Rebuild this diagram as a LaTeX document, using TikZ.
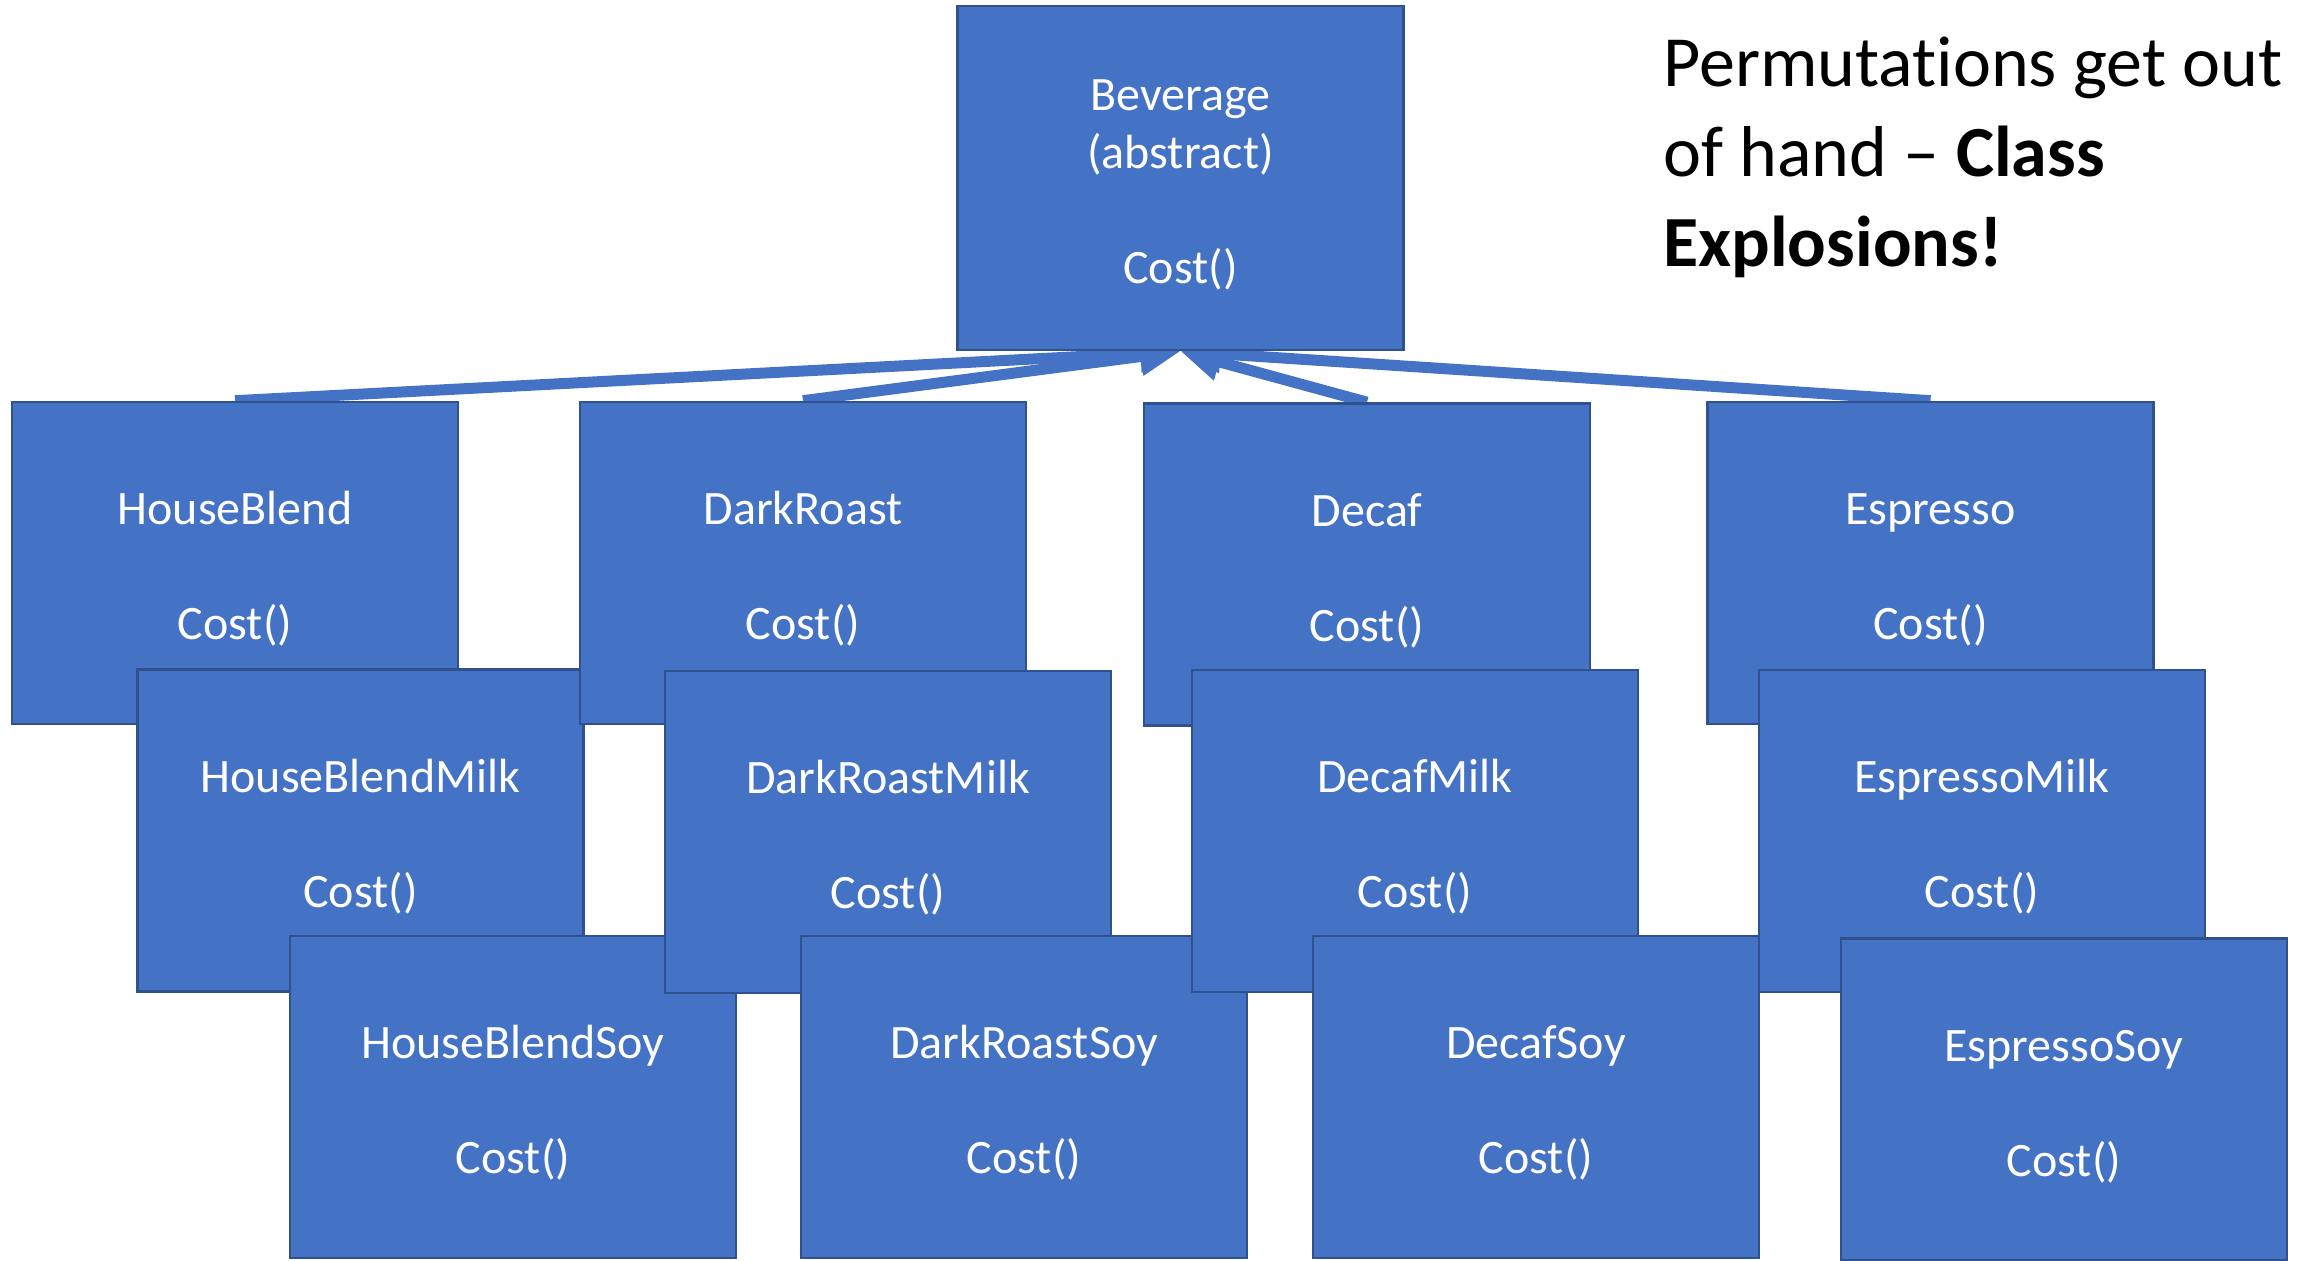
\documentclass[tikz,border=0pt]{standalone}
\usepackage{fontspec}
\setmainfont{Carlito}[Ligatures=NoCommon]
\usetikzlibrary{arrows.meta,backgrounds}
\definecolor{boxfill}{HTML}{4472C4}
\definecolor{boxline}{HTML}{2F528F}
\newcommand\mytopstrut{\rule{0pt}{22.5pt}}
\begin{document}
\begin{tikzpicture}[x=0.5pt,y=-0.5pt,
  cls/.style={rectangle, draw=boxline, line width=1.3pt, fill=boxfill, text=white,
    inner sep=0pt, minimum width=223pt, minimum height=161pt, align=center,
    font=\fontsize{24pt}{28.8pt}\selectfont},
  inh/.style={draw=boxfill, line width=5.5pt, -{Triangle[length=20pt,width=18pt]}},
  titletext/.style={anchor=base west, align=left, inner sep=0pt,
    font=\fontsize{36pt}{45pt}\selectfont}]
\useasboundingbox (0,0) rectangle (2308,1261);

\node[cls, minimum height=172pt] (bev) at (1180.5,178) {\mytopstrut Beverage\\(abstract)\\~\\Cost()};

\node[cls] (hb)  at (235,563)    {\mytopstrut HouseBlend\\~\\Cost()};
\node[cls] (hbm) at (360.5,830.5) {\mytopstrut HouseBlendMilk\\~\\Cost()};
\node[cls] (hbs) at (513,1097)   {\mytopstrut HouseBlendSoy\\~\\Cost()};

\node[cls] (dr)  at (803,563)    {\mytopstrut DarkRoast\\~\\Cost()};
\node[cls] (drm) at (888,832)    {\mytopstrut DarkRoastMilk\\~\\Cost()};
\node[cls] (drs) at (1024,1097)  {\mytopstrut DarkRoastSoy\\~\\Cost()};

\node[cls] (dc)  at (1367,564.5) {\mytopstrut Decaf\\~\\Cost()};
\node[cls] (dcm) at (1415,831)   {\mytopstrut DecafMilk\\~\\Cost()};
\node[cls] (dcs) at (1536,1097)  {\mytopstrut DecafSoy\\~\\Cost()};

\node[cls] (es)  at (1930.5,563) {\mytopstrut Espresso\\~\\Cost()};
\node[cls] (esm) at (1982,831)   {\mytopstrut EspressoMilk\\~\\Cost()};
\node[cls] (ess) at (2064,1099.5) {\mytopstrut EspressoSoy\\~\\Cost()};

\begin{pgfonlayer}{background}
\draw[inh] (hb.north) -- (bev.south);
\draw[inh] (dr.north) -- (bev.south);
\draw[inh] (dc.north) -- (bev.south);
\draw[inh] (es.north) -- (bev.south);
\end{pgfonlayer}

\node[titletext] (title) at (1663,267) {Permutat\kern0pt ions get out\\of hand – \textbf{Class}\\\textbf{Explosions!}};
\end{tikzpicture}
\end{document}
